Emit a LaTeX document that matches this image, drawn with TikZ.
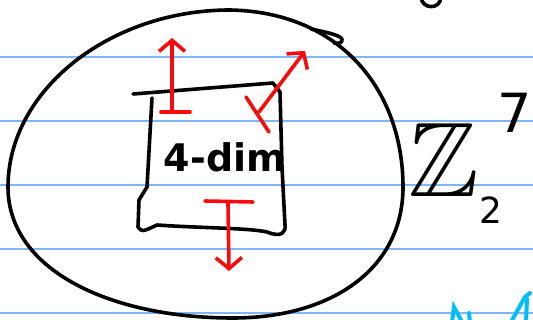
\documentclass[tikz,border=0pt]{standalone}
\usepackage{amsmath,amssymb}
\usepackage{fontspec}
\setmainfont{DejaVu Sans}
\definecolor{ruleblue}{RGB}{128,182,245}
\definecolor{penred}{RGB}{250,10,10}
\definecolor{pencyan}{RGB}{0,190,250}
\usetikzlibrary{arrows.meta}

\begin{document}
\begin{tikzpicture}[
  x=1pt, y=-1pt,
  ruling/.style={ruleblue, line width=1.8pt},
  ink/.style={black, line width=3.6pt, line cap=round, line join=round},
  vecarrow/.style={penred, line width=3.6pt, line cap=round,
    -{Straight Barb[length=11pt, width=26pt, line width=3.6pt]}},
  vecbar/.style={penred, line width=3.6pt, line cap=round},
  hand/.style={inner sep=0pt, text=black},
]
\useasboundingbox (0,0) rectangle (533,320);
\clip (0,0) rectangle (533,320);

% ruled paper
\foreach \ry in {57,121,185,249,313}
  \draw[ruling] (0,\ry) -- (533,\ry);

% the big blob
\draw[ink] (8,187) .. controls (8,90) and (110,10) .. (230,10)
  .. controls (340,12) and (403,90) .. (403,187)
  .. controls (403,270) and (330,318) .. (233,318)
  .. controls (110,318) and (8,270) .. (8,187);
\draw[ink] (311,29) .. controls (325,32) and (340,35) .. (342,39)
  .. controls (343,43) and (338,44) .. (334,43);

% the box
\draw[ink] (133,94) -- (273,83);
\draw[ink] (152,98) -- (147,187) -- (139,200) -- (138,227)
  .. controls (142,232) .. (157,225)
  .. controls (200,228) and (250,228) .. (267,232)
  .. controls (282,238) and (286,232) .. (285,225)
  -- (282,167) -- (280,92) -- (273,83);
\node[hand, font=\fontsize{38}{38}\selectfont\bfseries] (dimlabel) at (225,157) {4-dim};

% red moves
\coordinate (upbase) at (172,111);
\coordinate (uptip) at (172,38);
\coordinate (diagbase) at (259,112);
\coordinate (diagtip) at (305,51);
\coordinate (downbase) at (228,203);
\coordinate (downtip) at (229,271);
\draw[vecbar] (161,112) -- (190,112);
\draw[vecarrow] (upbase) -- (uptip);
\draw[vecbar] (246,97) -- (269,132);
\draw[vecarrow] (diagbase) -- (diagtip);
\draw[vecbar] (205,201) -- (253,202);
\draw[vecarrow] (downbase) -- (downtip);

% the group
\node[hand, font=\fontsize{106}{106}\selectfont] (zed) at (444,160) {$\mathbb{Z}$};
\node[hand, font=\fontsize{36}{36}\selectfont] (zsub) at (491,210) {2};
\node[hand, font=\fontsize{54}{54}\selectfont] (zsup) at (515,113) {7};

% scraps of neighbouring notes
\draw[ink] (421,-2) .. controls (423,9) and (439,10) .. (441,-2);
\draw[pencyan, line width=4pt, line cap=round] (452,322) -- (454,307) -- (462,322);
\draw[pencyan, line width=4pt, line cap=round] (469,313) -- (470,322);
\draw[pencyan, line width=4pt, line cap=round] (511,322) -- (525,297) -- (530,293);
\draw[pencyan, line width=4pt, line cap=round] (527,299) -- (526,322);
\end{tikzpicture}
\end{document}
